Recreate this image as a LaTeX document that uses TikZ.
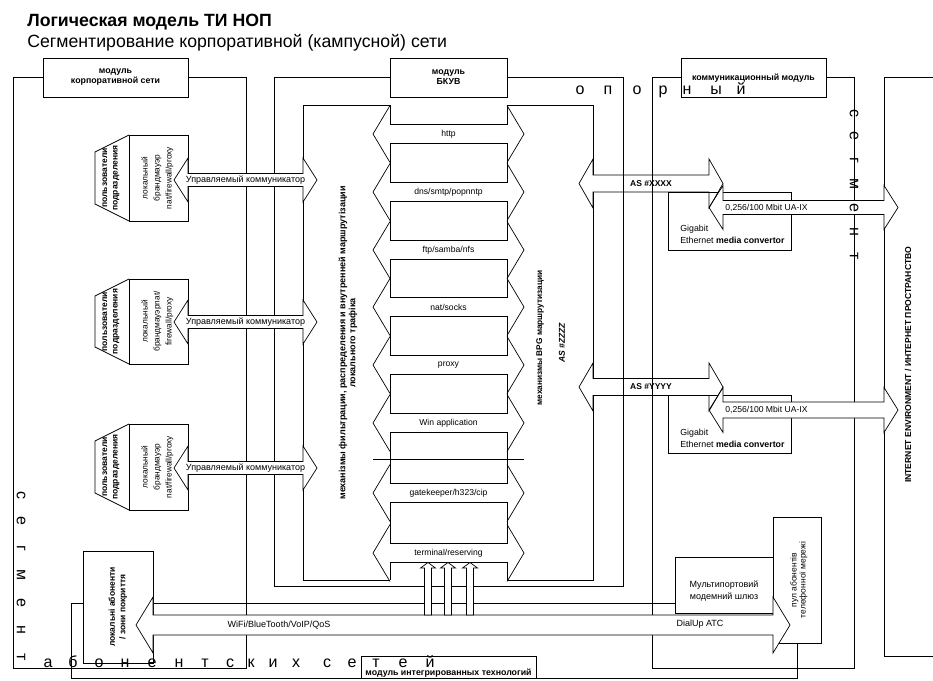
\documentclass[tikz,border=0pt]{standalone}
\usepackage{fontspec}
\setmainfont{Liberation Sans}
\newcommand{\dblarr}[7][]{%
  \draw[warr,#1] (#2,#4-#5) -- (#2,#4-#6) -- (#2-#7,#4) -- (#2,#4+#6) -- (#2,#4+#5)
    -- (#3,#4+#5) -- (#3,#4+#6) -- (#3+#7,#4) -- (#3,#4-#6) -- (#3,#4-#5) -- cycle;}
\begin{document}
\begin{tikzpicture}[x=1pt,y=-1pt,line width=0.7pt,line join=miter,
  warr/.style={draw=black,fill=white},
  wbox/.style={draw=black,fill=white},
  txt/.style={inner sep=0pt,align=center,font=\fontsize{8.6}{10}\selectfont},
  txtb/.style={inner sep=0pt,align=center,font=\fontsize{8.8}{10}\selectfont\bfseries},
  bigl/.style={inner sep=0pt,anchor=base,font=\fontsize{16}{16}\selectfont}]
\useasboundingbox (0,0) rectangle (933,680);

% titles
\node[inner sep=0pt,anchor=base west,font=\fontsize{17.7}{20}\selectfont\bfseries] (title) at (27,26) {Логическая модель ТИ НОП};
\node[inner sep=0pt,anchor=base west,font=\fontsize{17.7}{20}\selectfont] (subtitle) at (27,47) {Сегментирование корпоративной (кампусной) сети};

% frames
\draw (43,77) -- (13,77) -- (13,668) -- (246,668) -- (246,77) -- (188,77);
\draw (390,77) -- (274,77) -- (274,586) -- (623,586) -- (623,77) -- (507,77);
\draw (390,105) -- (303,105) -- (303,580) -- (390,580);
\draw (507,580) -- (593,580) -- (593,395);
\draw (593,379) -- (593,192);
\draw (593,175) -- (593,105) -- (507,105);
\draw (681,77) -- (652,77) -- (652,668) -- (854,668) -- (854,77) -- (826,77);
\draw (933,77) -- (884,77) -- (884,656) -- (933,656);
\draw (83,603) -- (71,603) -- (71,678) -- (797,678) -- (797,643);
\draw (153,603) -- (675,603);

% module boxes
\draw[wbox] (43,58) rectangle (188,97);
\draw[wbox] (390,58) rectangle (507,97);
\draw[wbox] (681,58) rectangle (826,97);
\draw (361,656) rectangle (536,678);

% protocol stack
\draw (390,105) -- (390,124.5) -- (507,124.5) -- (507,105);
\draw (390,580) -- (390,562.5) -- (507,562.5) -- (507,580);
\foreach \ya/\yb in {143.5/182.5,201.5/240.5,259.5/297.5,316.5/355.5,374.5/413.5,432.5/483.5,502.5/543.5}
  \draw (390,\ya) rectangle (507,\yb);
\foreach \t in {134,192,250,307,365,423,493,553}{
  \draw (390,\t-28.5) -- (373,\t) -- (390,\t+28.5);
  \draw (507,\t-28.5) -- (524,\t) -- (507,\t+28.5);
}
\draw (373,459) -- (524,459);

% user boxes
\foreach \ya/\yb in {135/221,279/364,424/510}{
  \draw[wbox] (129,\ya) rectangle (188,\yb);
  \draw (129,\ya) -- (95,\ya+17) -- (95,\yb-17) -- (129,\yb);
}
\dblarr{188}{303}{180}{6.5}{22}{14}
\dblarr{188}{303}{322}{6.5}{22}{14}
\dblarr{188}{303}{468}{6.5}{22}{14}

% communication side
\draw[wbox] (668,192) rectangle (791,250);
\draw[wbox] (668,395) rectangle (791,453);
\dblarr{723}{884}{207.5}{7}{22}{14}
\dblarr{723}{884}{410}{8}{22.5}{14}
\dblarr[fill=none]{593}{709}{183.5}{8.5}{24.5}{14}
\dblarr[fill=none]{593}{709}{387}{8.5}{24}{14}

% bottom module
\draw[wbox] (773,517) rectangle (821,643);
\draw[wbox] (675,557) rectangle (773,613);
\draw[wbox] (83,551) rectangle (153,663);
\dblarr{153}{773}{625}{10}{28}{17}
\foreach \ux in {428,448,470}
  \draw[warr] (\ux-3.5,615) -- (\ux-3.5,568) -- (\ux-7.5,568) -- (\ux,562.5) -- (\ux+7.5,568) -- (\ux+3.5,568) -- (\ux+3.5,615) -- cycle;

% texts: module boxes
\node[txtb] (mkorp) at (115.5,77.5) {модуль\\корпоративной сети};
\node[txtb] (mbkuv) at (448.5,77.5) {модуль\\БКУВ};
\node[txtb] (mkomm) at (753.5,78) {коммуникационный модуль};
\node[txtb] (minteg) at (448.5,673.5) {модуль интегрированных технологий};

% user boxes text
\node[txtb,rotate=90,font=\fontsize{8.5}{10.5}\selectfont\bfseries] (u1) at (111,178) {пользователи\\подразделения};
\node[txtb,rotate=90,font=\fontsize{8.5}{10.5}\selectfont\bfseries] (u2) at (111,321.5) {пользователи\\подразделения};
\node[txtb,rotate=90,font=\fontsize{8.5}{10.5}\selectfont\bfseries] (u3) at (111,467) {пользователи\\подразделения};
\node[txt,rotate=90,font=\fontsize{8.3}{12}\selectfont] (f1) at (157.5,178) {локальный\\брандмауэр\\nat/firewall/proxy};
\node[txt,rotate=90,font=\fontsize{8.3}{12}\selectfont] (f2) at (157.5,321.5) {локальный\\брандмауэрnat/\\firewall/proxy};
\node[txt,rotate=90,font=\fontsize{8.3}{12}\selectfont] (f3) at (157.5,467) {локальный\\брандмауэр\\nat/firewall/proxy};
\node[txt,font=\fontsize{9}{10}\selectfont] (c1) at (245.5,180) {Управляемый коммуникатор};
\node[txt,font=\fontsize{9}{10}\selectfont] (c2) at (245.5,322) {Управляемый коммуникатор};
\node[txt,font=\fontsize{9}{10}\selectfont] (c3) at (245.5,468) {Управляемый коммуникатор};

% vertical captions
\node[txtb,rotate=90,font=\fontsize{9}{10}\selectfont\bfseries] (mech) at (348,343) {механізмы фильтрации, распределения и внутренней маршрутізации\\локального трафіка};
\node[txtb,rotate=90,font=\fontsize{8.3}{10}\selectfont\bfseries] (bpg) at (540,338) {механизмы BPG маршрутизации};
\node[txtb,rotate=90,font=\fontsize{8.5}{10}\selectfont\bfseries\itshape] (asz) at (562,343) {AS \#ZZZZ};
\node[txtb,rotate=90,font=\fontsize{8.6}{10}\selectfont\bfseries] (inet) at (908,365) {INTERNET ENVIRONMENT / ИНТЕРНЕТ ПРОСТРАНСТВО};

% stack labels
\node[txt] (s1) at (448.5,134) {http};
\node[txt] (s2) at (448.5,192) {dns/smtp/popnntp};
\node[txt] (s3) at (448.5,250) {ftp/samba/nfs};
\node[txt] (s4) at (448.5,307) {nat/socks};
\node[txt] (s5) at (448.5,365) {proxy};
\node[txt] (s6) at (448.5,423) {Win application};
\node[txt] (s7) at (448.5,493) {gatekeeper/h323/cip};
\node[txt] (s8) at (448.5,553) {terminal/reserving};

% communication texts
\node[txtb,font=\fontsize{8.5}{10}\selectfont\bfseries] (asx) at (651,183.5) {AS \#XXXX};
\node[txtb,font=\fontsize{8.5}{10}\selectfont\bfseries] (asy) at (651,387) {AS \#YYYY};
\node[txt,anchor=west] (ua1) at (725,207.5) {0,256/100 Mbit UA-IX};
\node[txt,anchor=west] (ua2) at (725,410) {0,256/100 Mbit UA-IX};
\node[txt,anchor=west,align=left,font=\fontsize{8.8}{12}\selectfont] (g1) at (680,234) {Gigabit\\Ethernet \textbf{media convertor}};
\node[txt,anchor=west,align=left,font=\fontsize{8.8}{12}\selectfont] (g2) at (680,438.5) {Gigabit\\Ethernet \textbf{media convertor}};

% bottom texts
\node[txt,font=\fontsize{9}{11.5}\selectfont] (mgw) at (724,591) {Мультипортовий\\модемний шлюз};
\node[txt,rotate=90,font=\fontsize{8.5}{9}\selectfont] (pool) at (799,580) {пул абонентів\\телефонної мережі};
\node[txtb,rotate=90,font=\fontsize{8.5}{10.5}\selectfont\bfseries] (loc) at (118,607) {локальні абоненти\\/ зони покриття};
\node[txt,font=\fontsize{9}{10}\selectfont] (wifi) at (279,625) {WiFi/BlueTooth/VoIP/QoS};
\node[txt,font=\fontsize{9}{10}\selectfont] (dial) at (700,624) {DialUp АТС};

% big spaced letters
\foreach \lx/\lt in {580/о,608/п,637/о,663/р,687/н,716/ы,741/й}
  \node[bigl] at (\lx,94) {\lt};
\foreach \ly/\lt in {113/с,136/е,160/г,184/м,208/е,232/н,256/т}
  \node[bigl,anchor=center,rotate=-90] at (854,\ly) {\lt};
\foreach \ly/\lt in {495/с,521/е,548/г,575/м,603/е,630/н,657/т}
  \node[bigl,anchor=center,rotate=-90] at (21,\ly) {\lt};
\foreach \lx/\lt in {48/а,73/б,99/о,125/н,152/е,179/н,205/т,230/с,251/к,273/и,296/х,327/с,352/е,376/т,403/е,430/й}
  \node[bigl] at (\lx,667) {\lt};
\end{tikzpicture}
\end{document}
